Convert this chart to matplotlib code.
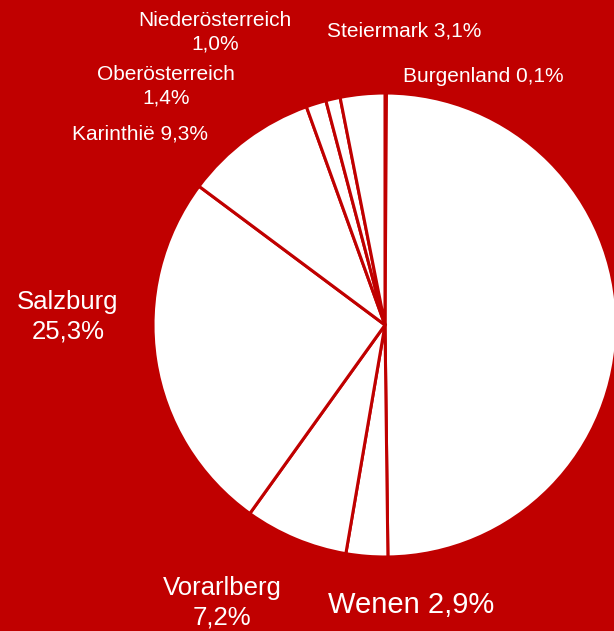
import matplotlib
matplotlib.use("Agg")
import matplotlib.pyplot as plt

plt.rcParams['font.family'] = ['Liberation Sans', 'DejaVu Sans']

# Data (clockwise from 12 o'clock)
regions = ["Burgenland", "Tirol", "Wenen", "Vorarlberg", "Salzburg",
           "Karinthië", "Oberösterreich", "Niederösterreich", "Steiermark"]
shares = [0.1, 49.7, 2.9, 7.2, 25.3, 9.3, 1.4, 1.0, 3.1]
label_texts = ["Burgenland 0,1%", None, "Wenen 2,9%", "Vorarlberg\n7,2%",
               "Salzburg\n25,3%", "Karinthië 9,3%", "Oberösterreich\n1,4%",
               "Niederösterreich\n1,0%", "Steiermark 3,1%"]

BG = "#C00000"
W, H = 614, 631
fig = plt.figure(figsize=(W / 100, H / 100), dpi=100, facecolor=BG)

cx, cy, r = 385, 325, 232
ax = fig.add_axes([(cx - r) / W, (H - cy - r) / H, 2 * r / W, 2 * r / H])
ax.set_facecolor(BG)
ax.pie(shares, startangle=90, counterclock=False, colors=["white"] * len(shares),
       wedgeprops=dict(edgecolor=BG, linewidth=2.2), radius=1.0, frame=False)
ax.set_xlim(-1, 1)
ax.set_ylim(-1, 1)
ax.axis("off")

# label placement (pixel centres) and sizes
label_pos = {
    "Burgenland": (483, 76, 15),
    "Wenen": (411, 605, 21),
    "Vorarlberg": (222, 603, 18.5),
    "Salzburg": (68, 317, 18.5),
    "Karinthië": (140, 134, 15),
    "Oberösterreich": (166, 86, 15),
    "Niederösterreich": (215, 32, 15),
    "Steiermark": (404, 31, 15),
}
for name, txt in zip(regions, label_texts):
    if txt is None:
        continue
    x, y, fs = label_pos[name]
    fig.text(x / W, 1 - y / H, txt, ha="center", va="center", color="white",
             fontsize=fs, linespacing=1.3)

fig.savefig("out.png", dpi=100, facecolor=BG)
